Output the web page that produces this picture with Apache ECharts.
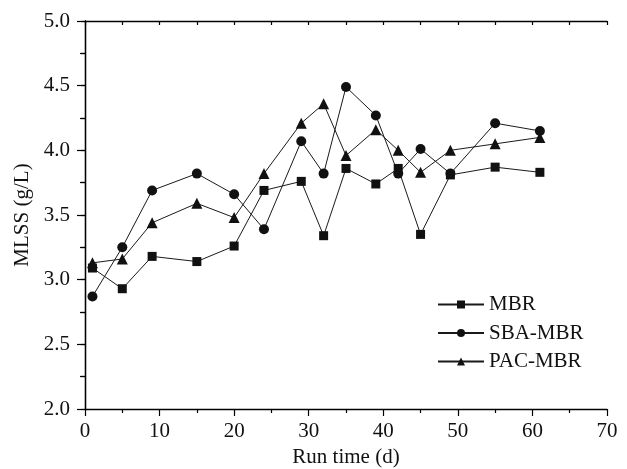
<!DOCTYPE html>
<html>
<head>
<meta charset="utf-8">
<script src="https://cdn.jsdelivr.net/npm/echarts@6/dist/echarts.min.js"></script>
<style>
  html, body { margin: 0; padding: 0; background: #fff; }
  #chart { width: 627px; height: 469px; }
</style>
</head>
<body>
<div id="chart"></div>
<script>
// Run time (d)
const runDays = [1, 5, 9, 15, 20, 24, 29, 32, 35, 39, 42, 45, 49, 55, 61];
// MLSS (g/L) for each reactor
const mbr    = [3.09, 2.93, 3.18, 3.14, 3.26, 3.69, 3.76, 3.34, 3.86, 3.74, 3.86, 3.35, 3.81, 3.87, 3.83];
const sbaMbr = [2.87, 3.25, 3.69, 3.82, 3.66, 3.39, 4.07, 3.82, 4.49, 4.27, 3.82, 4.01, 3.82, 4.21, 4.15];
const pacMbr = [3.13, 3.16, 3.44, 3.59, 3.48, 3.82, 4.21, 4.36, 3.96, 4.16, 4.00, 3.83, 4.00, 4.05, 4.10];
const seriesNames = ['MBR', 'SBA-MBR', 'PAC-MBR'];

const FONT = 'Liberation Serif';
const FS = 21;
const pairs = ys => runDays.map((d, i) => [d, ys[i]]);

const axisLine = { show: true, lineStyle: { color: '#000', width: 1.3 } };
const tickStyle = { color: '#000', width: 1.2 };

function makeSeries(name, ys, symbol, size) {
  return {
    name, type: 'line', data: pairs(ys),
    symbol, symbolSize: size,
    lineStyle: { color: '#1a1a1a', width: 1 },
    itemStyle: { color: '#111' },
    emphasis: { disabled: true },
    animation: false
  };
}

const chart = echarts.init(document.getElementById('chart'));
chart.setOption({
  backgroundColor: '#fff',
  animation: false,
  textStyle: { fontFamily: FONT },
  grid: { left: 85, right: 20, top: 21, bottom: 60, containLabel: false, outerBoundsMode: 'none' },
  legend: {
    orient: 'vertical',
    left: 437, top: 294, padding: 0,
    itemWidth: 46, itemHeight: 10, itemGap: 7.5,
    data: seriesNames,
    textStyle: { fontFamily: FONT, fontSize: 21, lineHeight: 20, color: '#111' }
  },
  xAxis: [
    {
      type: 'value', min: 0, max: 70, interval: 10,
      name: 'Run time (d)', nameLocation: 'middle', nameGap: 35,
      nameTextStyle: { fontFamily: FONT, fontSize: FS, color: '#111' },
      axisLine,
      axisTick: { show: true, inside: false, length: 7, lineStyle: tickStyle },
      minorTick: { show: true, splitNumber: 2, length: 4, lineStyle: tickStyle },
      axisLabel: { fontFamily: FONT, fontSize: FS, color: '#111', margin: 12 },
      splitLine: { show: false }
    },
    {
      type: 'value', min: 0, max: 70, interval: 10, position: 'top',
      axisLine,
      axisTick: { show: true, inside: true, length: 4, lineStyle: tickStyle },
      minorTick: { show: true, splitNumber: 2, length: 4, lineStyle: tickStyle },
      axisLabel: { show: false },
      splitLine: { show: false }
    }
  ],
  yAxis: [
    {
      type: 'value', min: 2.0, max: 5.0, interval: 0.5,
      name: 'MLSS (g/L)', nameLocation: 'middle', nameGap: 51, nameRotate: 90,
      nameTextStyle: { fontFamily: FONT, fontSize: FS, color: '#111' },
      axisLine,
      axisTick: { show: true, inside: false, length: 8, lineStyle: tickStyle },
      minorTick: { show: true, splitNumber: 2, length: 5, lineStyle: tickStyle },
      axisLabel: { fontFamily: FONT, fontSize: FS, color: '#111', margin: 15,
                   formatter: v => v.toFixed(1) },
      splitLine: { show: false }
    },
    {
      type: 'value', min: 2.0, max: 5.0, interval: 0.5, position: 'right',
      axisLine,
      axisTick: { show: true, inside: true, length: 4, lineStyle: tickStyle },
      minorTick: { show: true, splitNumber: 2, length: 4, lineStyle: tickStyle },
      axisLabel: { show: false },
      splitLine: { show: false }
    }
  ],
  series: [
    makeSeries('MBR', mbr, 'rect', 9),
    makeSeries('SBA-MBR', sbaMbr, 'circle', 10),
    makeSeries('PAC-MBR', pacMbr, 'triangle', 11)
  ]
});
</script>
</body>
</html>
